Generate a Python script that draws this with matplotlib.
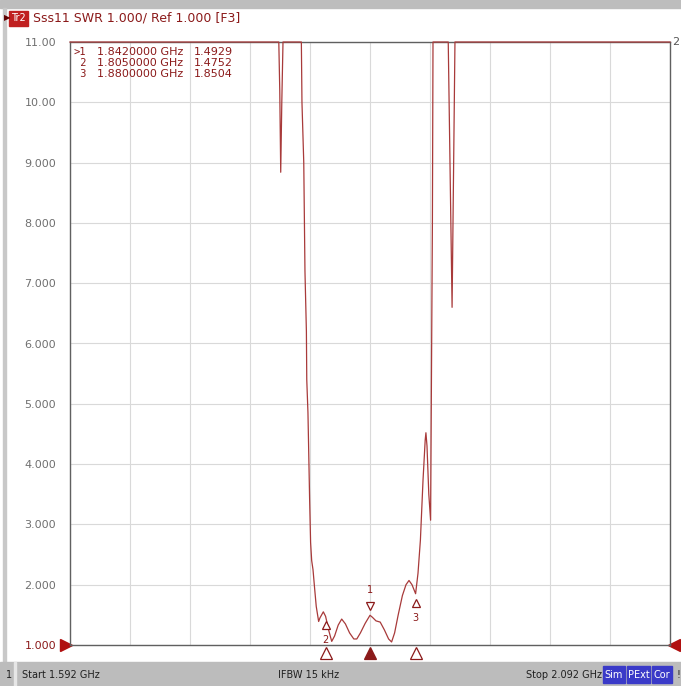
import matplotlib
matplotlib.use("Agg")
import matplotlib.pyplot as plt
from matplotlib.patches import Rectangle
import matplotlib.transforms as mtransforms

# trace data: frequency (GHz) and SWR
freq = [1.592, 1.7660, 1.7668, 1.7676, 1.7685, 1.7695, 1.7848, 1.7853, 1.7868, 1.7878,
        1.7890, 1.7893, 1.7903, 1.7917, 1.7925, 1.7934, 1.7945, 1.7958, 1.7972, 1.7992,
        1.8003, 1.8031, 1.8050, 1.8075, 1.8101, 1.8125, 1.8155, 1.8184, 1.8215, 1.8250,
        1.8285, 1.8310, 1.8340, 1.8380, 1.8420, 1.8440, 1.8470, 1.8505, 1.8540, 1.8575,
        1.8600, 1.8625, 1.8655, 1.8690, 1.8720, 1.8745, 1.8770, 1.8800, 1.8820, 1.8840,
        1.8862, 1.8880, 1.8886, 1.8895, 1.8910, 1.8925, 1.8932, 1.8940, 1.8945, 1.9072,
        1.9104, 1.9128, 2.092]
swr = [11.0, 11.0, 10.2, 8.84, 10.0, 11.0, 11.0, 10.0, 9.0, 7.2,
       6.2, 5.4, 4.85, 3.4, 2.7, 2.4, 2.25, 1.95, 1.64, 1.39,
       1.45, 1.55, 1.4752, 1.25, 1.06, 1.15, 1.33, 1.43, 1.35, 1.20,
       1.10, 1.10, 1.20, 1.36, 1.4929, 1.46, 1.40, 1.38, 1.25, 1.10,
       1.05, 1.20, 1.50, 1.82, 2.00, 2.07, 2.00, 1.8504, 2.19, 2.74,
       3.74, 4.40, 4.52, 4.30, 3.50, 3.07, 5.40, 8.00, 11.0, 11.0,
       6.6, 11.0, 11.0]

mk_num = ["1", "2", "3"]
mk_freq = [1.842, 1.805, 1.880]
mk_val = [1.4929, 1.4752, 1.8504]

y_ticks = [1, 2, 3, 4, 5, 6, 7, 8, 9, 10, 11]
y_labels = ["1.000", "2.000", "3.000", "4.000", "5.000", "6.000", "7.000",
            "8.000", "9.000", "10.00", "11.00"]

start, stop = 1.592, 2.092
trace_col = "#a83a3a"
dark_red = "#8b1a1a"

W, H = 681, 686
fig = plt.figure(figsize=(W / 100, H / 100), dpi=100)
fig.patch.set_facecolor("white")

# axes box in pixel units
x0, x1, ytop, ybot = 70, 670, 42, 645
ax = fig.add_axes([x0 / W, (H - ybot) / H, (x1 - x0) / W, (ybot - ytop) / H])
ax.set_xlim(start, stop)
ax.set_ylim(1, 11)

step = (stop - start) / 10
ax.set_xticks([start + i * step for i in range(11)])
ax.set_yticks(y_ticks)
ax.set_xticklabels([])
ax.set_yticklabels(y_labels, fontsize=8, color="#707070")
ax.get_yticklabels()[0].set_color(dark_red)
ax.tick_params(length=0, pad=10)
ax.grid(True, color="#d9d9d9", linewidth=0.8)
for s in ax.spines.values():
    s.set_color("#606060")
    s.set_linewidth(1.0)

ax.plot(freq, swr, color=trace_col, linewidth=0.9, clip_on=False, zorder=3)

# marker table
for i in range(len(mk_num)):
    yy = 0.983 - i * 0.0178
    pre = ">" + mk_num[i] if i == 0 else " " + mk_num[i]
    ax.text(0.006, yy, pre, transform=ax.transAxes, fontsize=7.5, color=dark_red,
            va="center", family="DejaVu Sans Mono")
    ax.text(0.045, yy, "%.7f GHz" % mk_freq[i], transform=ax.transAxes, fontsize=8,
            color=dark_red, va="center")
    ax.text(0.207, yy, "%.4f" % mk_val[i], transform=ax.transAxes, fontsize=8,
            color=dark_red, va="center")

# markers on trace
for i in range(len(mk_num)):
    f, v = mk_freq[i], mk_val[i]
    if i == 0:
        ax.plot(f, v + 0.15, marker="v", markersize=6, markerfacecolor="white",
                markeredgecolor=dark_red, markeredgewidth=0.9, zorder=4)
        ax.text(f, v + 0.42, mk_num[i], fontsize=7, color=dark_red, ha="center", va="center")
    else:
        ax.plot(f, v - 0.15, marker="^", markersize=6, markerfacecolor="white",
                markeredgecolor=dark_red, markeredgewidth=0.9, zorder=4)
        ax.text(f, v - 0.40, mk_num[i], fontsize=7, color=dark_red, ha="center", va="center")

# marker triangles below the grid
below = mtransforms.blended_transform_factory(ax.transData, ax.transAxes)
for i in range(len(mk_num)):
    fc = dark_red if i == 0 else "white"
    ax.plot(mk_freq[i], -0.013, marker="^", markersize=8, markerfacecolor=fc,
            markeredgecolor=dark_red, markeredgewidth=0.9, transform=below, clip_on=False)

# reference level arrows
side = mtransforms.blended_transform_factory(ax.transAxes, ax.transData)
ax.plot(-0.006, 1, marker=">", markersize=9, color="#b01010", transform=side, clip_on=False)
ax.plot(1.006, 1, marker="<", markersize=9, color="#b01010", transform=side, clip_on=False)
ax.text(1.004, 11, "2", transform=side, fontsize=8, color="#555555", va="center")

# screen frame
fig.patches.append(Rectangle((0, (H - 8) / H), 1, 8 / H, transform=fig.transFigure,
                             color="#bdbdbd", zorder=0))
fig.patches.append(Rectangle((3 / W, 24 / H), 3 / W, (H - 32) / H, transform=fig.transFigure,
                             color="#c8c8c8", zorder=0))

# title line
fig.patches.append(Rectangle((9 / W, (H - 26) / H), 19 / W, 15 / H, transform=fig.transFigure,
                             color="#c02020", zorder=1))
fig.text(4 / W, (H - 18) / H, "\u25b6", fontsize=6, color="#600000", va="center")
fig.text(11 / W, (H - 18) / H, "Tr2", fontsize=7, color="#ffffff", va="center")
fig.text(33 / W, (H - 18) / H, "Sss11 SWR 1.000/ Ref 1.000 [F3]", fontsize=9,
         color=dark_red, va="center")

# status bar
fig.patches.append(Rectangle((0, 0), 1, 24 / H, transform=fig.transFigure,
                             color="#bcbcbc", zorder=0))
fig.patches.append(Rectangle((14 / W, 0), 1.5 / W, 24 / H, transform=fig.transFigure,
                             color="#e6e6e6", zorder=1))
sy = 11 / H
fig.text(6 / W, sy, "1", fontsize=7, color="#202020", va="center")
fig.text(22 / W, sy, "Start %.3f GHz" % start, fontsize=7, color="#202020", va="center")
fig.text(278 / W, sy, "IFBW 15 kHz", fontsize=7, color="#202020", va="center")
fig.text(526 / W, sy, "Stop %.3f GHz" % stop, fontsize=7, color="#202020", va="center")
for lbl, bx, bw in [("Sim", 603, 22), ("PExt", 627, 23), ("Cor", 652, 20)]:
    fig.patches.append(Rectangle((bx / W, 3 / H), bw / W, 17 / H, transform=fig.transFigure,
                                 color="#3a3ac8", zorder=1))
    fig.text((bx + bw / 2) / W, sy, lbl, fontsize=7, color="white", ha="center", va="center")
fig.text(676 / W, sy, "!", fontsize=7, color="#202020", va="center")

fig.savefig("out.png", dpi=100)
